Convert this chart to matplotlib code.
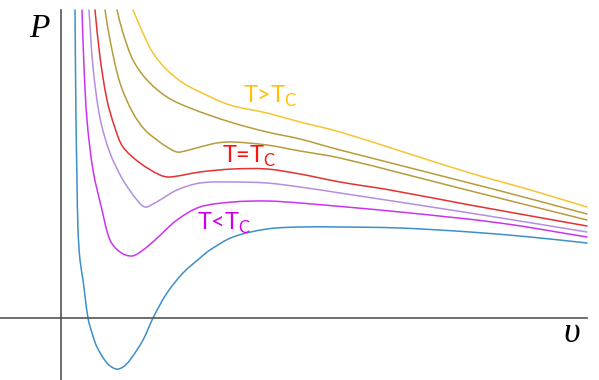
import matplotlib
matplotlib.use("Agg")
import numpy as np
from matplotlib import pyplot as plt
from matplotlib.path import Path
from matplotlib.patches import PathPatch

# isotherms: v (volume) and P (pressure), arbitrary units
v_blue = [14, 15, 16, 17, 19, 22, 27, 31, 36, 46, 55, 62, 69, 82, 92, 106, 122, 139, 149, 172, 206, 239, 279, 339,
          409, 469, 526]
p_blue = [308, 198, 138, 88, 58, 38, 0, -15, -29, -45, -51, -49, -42, -22, 0, 25, 45, 60, 68, 81, 89, 91, 91, 90,
          86, 81, 75]

v_magenta = [21, 23, 26, 32, 41, 49, 59, 71, 82, 94, 116, 139, 172, 206, 239, 339, 439, 526]
p_magenta = [308, 251, 198, 148, 108, 78, 66, 62, 68, 78, 98, 111, 116, 117, 115, 106, 95, 81]

v_lavender = [28, 32, 39, 49, 62, 76, 84, 92, 99, 116, 139, 172, 206, 239, 279, 409, 526]
p_lavender = [308, 251, 200, 165, 138, 118, 111, 114, 118, 128, 135, 136, 135, 131, 125, 105, 86]

v_red = [34, 39, 46, 54, 62, 79, 99, 109, 139, 172, 206, 239, 279, 329, 409, 526]
p_red = [308, 261, 218, 190, 171, 155, 143, 141, 146, 149, 149, 144, 136, 128, 113, 92]

v_olive_dip = [44, 49, 59, 72, 84, 96, 106, 116, 124, 139, 156, 172, 206, 239, 279, 402, 526]
p_olive_dip = [308, 278, 235, 205, 188, 178, 171, 166, 167, 171, 175, 176, 173, 167, 160, 129, 98]

v_olive = [56, 62, 72, 86, 106, 129, 169, 206, 239, 279, 432, 526]
p_olive = [308, 285, 258, 238, 221, 210, 196, 186, 179, 168, 129, 104]

v_yellow = [72, 82, 92, 106, 122, 139, 169, 206, 239, 279, 409, 466, 526]
p_yellow = [308, 285, 265, 248, 235, 226, 213, 205, 196, 186, 145, 129, 111]

labels = [r"T>T$_\mathregular{C}$", r"T=T$_\mathregular{C}$", r"T<T$_\mathregular{C}$"]


def smooth_path(v, p):
    # bezier through the read points (axes units are pixels, so lengths are fair)
    pts = np.column_stack([v, p]).astype(float)
    tang = np.zeros_like(pts)
    tang[0] = pts[1] - pts[0]
    tang[-1] = pts[-1] - pts[-2]
    tang[1:-1] = pts[2:] - pts[:-2]
    tang /= np.linalg.norm(tang, axis=1)[:, None]
    verts = [pts[0]]
    codes = [Path.MOVETO]
    for i in range(len(pts) - 1):
        d = np.linalg.norm(pts[i + 1] - pts[i]) / 3
        verts += [pts[i] + tang[i] * d, pts[i + 1] - tang[i + 1] * d, pts[i + 1]]
        codes += [Path.CURVE4] * 3
    return Path(verts, codes)


def plot_isotherms():
    fig = plt.figure(figsize=(5.99, 3.80), dpi=100)
    ax = fig.add_axes([0, 0, 1, 1])
    ax.set_xlim(-61, 538)
    ax.set_ylim(-62, 318)
    ax.axis("off")

    # axes drawn by hand
    ax.plot([0, 0], [-62, 308], color="#555555", lw=1.2)
    ax.plot([-61, 526], [0, 0], color="#555555", lw=1.2)

    curves = [(v_blue, p_blue, "#3D8FC8"),
              (v_magenta, p_magenta, "#CC33EE"),
              (v_lavender, p_lavender, "#B48EE0"),
              (v_red, p_red, "#E53030"),
              (v_olive_dip, p_olive_dip, "#B89B3C"),
              (v_olive, p_olive, "#B89B3C"),
              (v_yellow, p_yellow, "#F5C431")]
    for v, p, c in curves:
        ax.add_patch(PathPatch(smooth_path(v, p), facecolor="none", edgecolor=c, lw=1.1, capstyle="round"))

    ax.text(-22, 289, "P", family="Liberation Serif", style="italic", fontsize=24, ha="center", va="center")
    ax.text(511, -16, "\u03c5", family="Liberation Serif", style="italic", fontsize=26, ha="center", va="center")

    ax.text(182, 215, labels[0], color="#FFC000", family="Lato", fontsize=17, va="baseline")
    ax.text(161, 155, labels[1], color="#FF1010", family="Lato", fontsize=17, va="baseline")
    ax.text(136, 88, labels[2], color="#CC00EE", family="Lato", fontsize=17, va="baseline")

    fig.savefig("out.png", dpi=100)
    return


if __name__ == "__main__":
    plot_isotherms()
